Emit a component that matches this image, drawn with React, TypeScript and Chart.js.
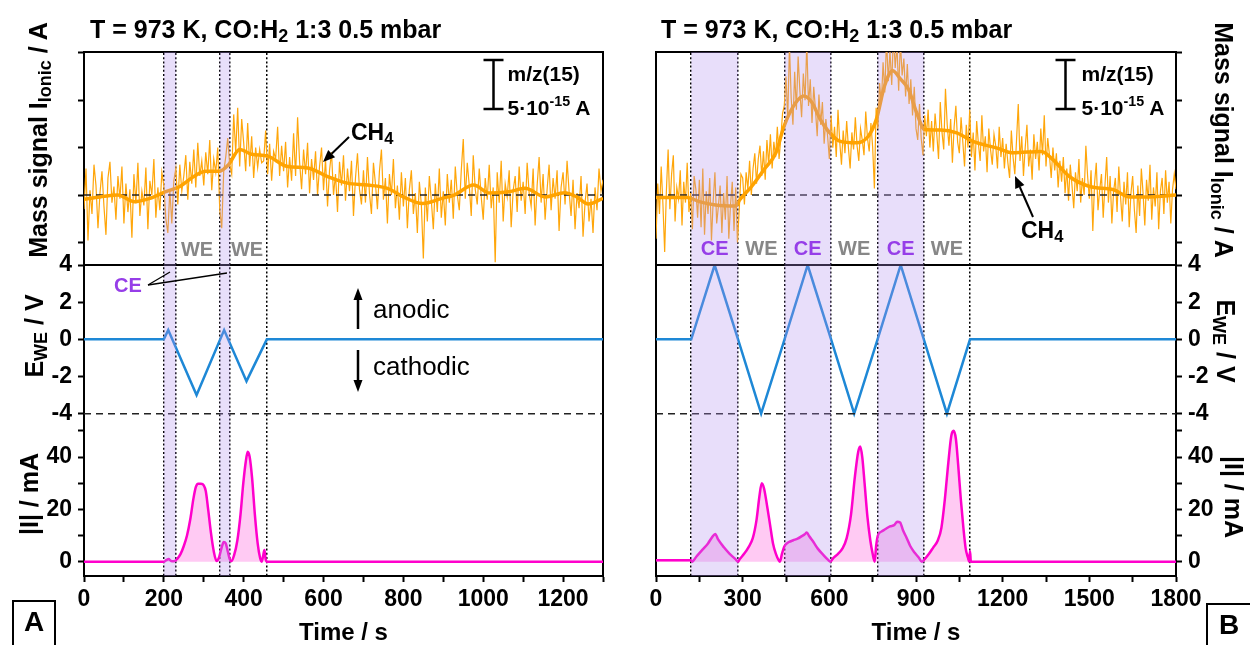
import React, { useEffect, useRef } from "react";
import { Chart, registerables } from "chart.js";

Chart.register(...registerables);

const FONT = "'Liberation Sans', Arial, Helvetica, sans-serif";

// ---------------- Panel A data (time in s) ----------------
const xLabelsA = [0, 200, 400, 600, 800, 1000, 1200];
const massStepA = 5; // sampling of the raw m/z 15 trace, s
// raw mass signal, units of 1e-15 A (0 = baseline)
const massNoisyA = [
  -1.5, 2.8, -4.8, 0.5, -2.0, 3.2, 1.0, -3.5, 0.2, 2.5, -1.2, -4.2, 1.8, 3.5, -0.8, 0.9, -2.6, 2.0, -0.4, 3.0,
  -3.0, 1.2, -1.8, 0.6, -4.5, 2.2, -0.9, 3.4, -2.2, 0.4, -1.1, 2.9, -3.6, 1.5, 0.0, 3.8, -2.4, 0.8, -1.6, 2.4,
  1.0, -2.5, -4.0, 0.5, -3.0, 1.5, 2.8, -1.0, 3.2, 0.4, 2.0, 4.2, -0.5, 3.5, 1.2, 4.8, 0.8, 5.5, 2.0, 3.6,
  1.0, 4.5, 2.2, 5.8, 0.5, 3.8, 2.4, 5.0, -1.5, -3.5, 2.5, 4.0, 6.0, 3.2, 2.2, 8.5, 4.5, 9.2, 3.0, 8.0,
  5.5, 2.5, 7.6, 3.0, 6.2, 1.8, 5.0, 2.9, 4.8, 3.4, 3.6, 6.8, 2.2, 5.4, 1.5, 4.6, 3.8, 7.2, 2.0, 5.2,
  2.5, 5.6, 0.8, 4.0, 1.5, 6.5, 2.0, 8.2, 3.5, 0.6, 4.8, 2.2, 5.5, 0.2, 3.8, 1.6, 4.6, 0.0, 3.0, 5.0,
  0.5, 3.8, -1.2, 2.6, 4.5, 0.0, 2.2, -1.8, 3.5, 1.0, 4.2, -0.6, 2.8, 0.4, 3.6, -2.2, 1.8, 4.4, 0.6, -1.0,
  2.6, -0.8, 4.0, 0.2, -2.0, 3.4, 1.2, -1.5, 2.5, 4.8, -0.5, 1.8, -3.0, 2.2, 0.0, 3.8, -1.4, 1.0, -2.6, 2.4,
  -1.2, 1.8, -3.5, 0.6, 2.6, -2.0, 0.2, -4.0, 1.4, -1.0, -6.7, 0.8, -2.8, 2.0, -0.6, -3.6, 1.2, -1.8, 2.8, -2.4,
  0.4, -3.2, 2.2, -0.8, 1.6, -2.5, 3.0, 0.0, -1.6, 2.6, 5.9, -0.4, 3.4, 1.0, -2.2, 4.2, 0.6, -1.0, 2.8, -0.2,
  -2.6, 1.8, -0.5, 3.2, -1.4, 0.8, -7.1, 2.4, -0.8, 3.6, -2.8, 1.2, -0.2, 2.6, -3.4, 0.5, 2.0, -1.8, 3.0, -0.6,
  1.4, -2.0, 3.4, 0.2, -1.2, 2.8, -3.2, 1.0, 4.0, -0.8, 2.2, -2.6, 0.6, 3.2, -1.6, 1.8, -0.4, 2.6, -3.8, 0.8,
  2.4, -1.0, 3.6, 0.4, -2.2, 1.6, -3.6, 0.2, -1.4, 2.0, -4.4, -0.8, 1.2, -2.8, -0.4, -4.0, 0.8, -1.6, 2.8, 0.4, 1.6,
];
const smoothTimesA = [0, 40, 85, 125, 165, 205, 240, 275, 305, 338, 362, 390, 420, 460, 510, 560, 610, 660, 710, 760, 800, 848, 897, 927, 976, 1016, 1065, 1105, 1155, 1204, 1234, 1263, 1300];
const smoothA = [-0.45, -0.2, 0, -0.7, -0.35, 0.35, 0.9, 1.95, 2.5, 2.5, 3.2, 4.8, 4.3, 4.1, 3.0, 2.85, 1.95, 1.25, 1.05, 0.7, -0.2, -0.9, -0.35, 0, 1.05, 0.2, 0.35, 0.7, -0.2, 0.25, -0.2, -0.95, -0.35];
const eTimesA = [0, 200, 211, 282, 351, 407, 458, 1300];
const eValuesA = [0, 0, 0.5, -3, 0.5, -2.25, 0, 0];
const iTimesA = [0, 200, 206, 212, 218, 226, 234, 242, 250, 258, 266, 274, 280, 286, 293, 300, 305, 311, 318, 325, 332, 338, 344, 350, 355, 360, 365, 369, 376, 384, 392, 399, 405, 410, 415, 421, 428, 435, 441, 445, 449, 452, 455, 458, 1300];
const iValuesA = [0, 0, 0.6, 1.0, 0.3, 0.2, 1.2, 3, 6, 10, 16, 24, 28.5, 29.8, 29.8, 29.2, 27, 20, 11, 4, 0.3, 1.5, 5, 7.5, 7, 4, 1, 0.2, 2.5, 8, 18, 30, 38, 42, 40, 32, 18, 7, 1.5, 0, 2.5, 4.5, 1, 0, 0];
const bandsA = [[200, 230], [340, 366]];
const markersA = [200, 230, 340, 366, 458];

// ---------------- Panel B data ----------------
const xLabelsB = [0, 300, 600, 900, 1200, 1500, 1800];
const massStepB = 6;
const massNoisyB = [
  -4.6, 1.2, -2.0, 3.0, -1.0, -6.0, 0.5, 4.8, -1.5, 2.2, 4.2, -2.8, 0.8, -0.4, 2.6, -3.2, 1.4, -0.8, 3.4, -1.8, 0.2, -3.6, 2.0, 0.6, -2.4,
  1.6, -3.4, 2.8, -4.2, 0.4, -2.0, 1.8, -4.8, -0.6, 2.4, -3.0, -1.2, 1.0, -4.0, 0.2, -2.6, 2.0, -4.6, -1.0, 1.4, -3.8, 0.8, -5.0, -1.6, 2.2,
  1.8, -1.0, 2.4, 0.6, 3.6, 0.0, 2.8, 4.4, 1.2, 3.8, 5.2, 2.0, 4.6, 1.6, 5.8, 3.2, 6.4, 2.8, 5.6, 4.0, 7.2, 3.8, 6.0, 8.6, 9.4,
  12.5, 8.0, 15.8, 10.2, 7.4, 13.0, 9.0, 14.6, 11.0, 8.2, 12.8, 10.0, 16.0, 9.4, 12.2, 7.6, 11.4, 9.0, 6.2, 10.6, 7.4, 9.8, 5.4, 8.0, 6.2,
  3.8, 8.4, 5.0, 7.2, 4.0, 9.0, 5.6, 3.2, 6.8, 4.4, 7.8, 5.0, 2.8, 6.6, 4.8, 8.2, 5.2, 3.6, 7.0, 5.8, 4.2, 8.8, 6.0, 4.6, 7.6,
  5.0, 0.7, 9.2, 7.0, 11.8, 9.6, 14.0, 10.8, 16.5, 12.0, 15.2, 11.6, 17.0, 13.4, 15.8, 11.0, 16.2, 12.6, 14.4, 10.4, 13.8, 9.6, 12.2, 8.4, 11.4,
  7.0, 5.8, 9.6, 6.0, 4.2, 8.4, 6.2, 9.0, 5.0, 7.8, 4.6, 8.6, 6.4, 3.8, 9.8, 6.6, 4.8, 11.2, 7.4, 5.2, 8.0, 3.4, 7.2, 9.4, 5.6,
  4.4, 8.2, 5.6, 3.0, 7.4, 5.0, 9.0, 4.0, 6.6, 2.6, 7.8, 5.4, 3.6, 8.4, 4.6, 6.2, 2.4, 7.0, 4.8, 3.2, 6.4, 5.2, 2.8, 7.2, 4.0,
  6.0, 2.8, 5.4, 3.4, 1.8, 6.8, 4.0, 2.2, 5.8, 9.6, 3.6, 6.2, 2.0, 5.0, 7.4, 3.0, 4.8, 1.6, 6.4, 3.8, 5.6, 2.6, 7.0, 4.2, 8.4,
  3.0, 6.0, 4.2, 1.8, 5.0, 2.6, 4.4, 0.8, 3.6, 1.4, 4.0, 0.2, 2.8, -0.6, 3.2, 1.0, -1.4, 2.4, 0.4, 3.8, -0.8, 1.8, 0.0, 5.2, 2.0,
  -0.4, 2.6, -3.8, 1.2, 3.4, -1.6, 0.6, 2.2, -2.4, 1.0, 4.0, -0.8, 2.0, -3.0, 0.4, 1.8, -1.8, 3.0, -0.2, -2.8, 1.4, -1.0, 2.4, -3.4, 0.2,
  2.0, -1.6, -4.0, 1.0, -2.2, 2.8, 0.2, -3.2, 1.6, -0.6, 3.2, -2.6, 0.8, -1.2, 2.4, -3.6, 0.4, 1.8, -2.0, 2.6, -0.8, 1.4, -3.0, 0.6, 2.2,
  0.6,
];
const smoothTimesB = [0, 109, 150, 206, 276, 290, 331, 373, 415, 443, 484, 512, 540, 568, 596, 638, 693, 735, 763, 791, 819, 846, 874, 902, 930, 986, 1041, 1097, 1181, 1236, 1334, 1375, 1431, 1501, 1584, 1640, 1710, 1800];
const smoothB = [-0.25, -0.25, -0.7, -1.05, -1.15, -0.5, 0.9, 2.65, 4.45, 7.25, 9.75, 10.45, 9.75, 8.0, 6.75, 5.65, 5.5, 6.2, 8.0, 11.5, 13.1, 12.25, 11.15, 8.7, 6.9, 6.85, 6.55, 5.65, 4.95, 4.45, 4.6, 3.7, 1.95, 0.9, 0.55, -0.2, -0.2, 0];
const eTimesB = [0, 122, 203, 284, 364, 445, 525, 606, 686, 767, 847, 927, 1007, 1087, 1800];
const eValuesB = [0, 0, 4, 0, -4, 0, 4, 0, -4, 0, 4, 0, -4, 0, 0];
const iTimesB = [0, 122, 125, 140, 160, 180, 195, 205, 215, 235, 255, 275, 284, 290, 305, 320, 335, 348, 358, 366, 374, 385, 395, 405, 415, 425, 429, 436, 445, 460, 475, 490, 505, 515, 522, 530, 545, 560, 580, 595, 604, 612, 630, 645, 660, 675, 688, 700, 707, 714, 722, 732, 742, 750, 757, 762, 768, 780, 795, 810, 825, 835, 845, 855, 868, 880, 895, 910, 920, 930, 945, 960, 975, 988, 1000, 1012, 1022, 1030, 1038, 1046, 1055, 1064, 1072, 1080, 1084, 1087, 1090, 1800];
const iValuesB = [0.6, 0.6, 0, 2, 4.5, 7, 9.5, 10.6, 8.5, 5.5, 3, 1, 0, 1, 3, 5.5, 9, 16, 25, 30, 28, 21, 14, 7, 3, 0.5, 0, 3, 6, 7.5, 8.2, 8.8, 9.8, 10.5, 11.2, 9.8, 7.5, 5, 2.5, 0.8, 0, 1.2, 3, 5, 9, 18, 32, 42, 44, 40, 30, 17, 8, 3, 0, 6, 10, 11.5, 12.5, 13.5, 14, 15.3, 15, 12, 9, 6, 3.5, 1.5, 0, 1, 3, 5.5, 8, 13, 24, 38, 48, 50, 47, 37, 24, 13, 5, 1.5, 0, 4, 0, 0];
const bandsB = [[122, 284], [445, 606], [767, 927]];
const markersB = [122, 284, 445, 606, 767, 927, 1087];

// ---------------- axis ticks ----------------
const massTicks = [-5, 0, 5, 10, 15];
const eTicks = [-4, -2, 0, 2, 4];
const eTickLabels = [-4, -2, 0, 2, 4];
const iTicks = [0, 10, 20, 30, 40, 50];
const iTickLabels = [0, 20, 40];
const massRange = [-7.38, 15.08];
const eRange = [-4.34, 4];
const iRange = [-5.46, 54.15];

const pts = (xs: number[], ys: number[]) => xs.map((x, i) => ({ x, y: ys[i] }));
const stepPts = (step: number, ys: number[]) => ys.map((y, i) => ({ x: i * step, y }));

const bandPlugin = {
  id: "bands",
  afterDatasetsDraw(chart: any, _args: any, opts: any) {
    const { ctx, chartArea, scales } = chart;
    const xs = scales.x;
    ctx.save();
    ctx.fillStyle = opts.color;
    for (const [s, e] of opts.ranges) {
      const x1 = xs.getPixelForValue(s);
      const x2 = xs.getPixelForValue(e);
      ctx.fillRect(x1, chartArea.top, x2 - x1, chartArea.bottom - chartArea.top);
    }
    ctx.restore();
  },
};

type Panel = {
  side: "left" | "right";
  xMax: number;
  xStep: number;
  xLabels: number[];
  massStep: number;
  massNoisy: number[];
  smoothT: number[];
  smoothV: number[];
  eT: number[];
  eV: number[];
  iT: number[];
  iV: number[];
  bands: number[][];
  markers: number[];
  padding: any;
  axisWidth: number;
};

function buildConfig(p: Panel): any {
  const tickFont = { family: FONT, size: 23, weight: "bold" };
  const yAxis = (min: number, max: number, weight: number, ticks: number[], cb: (v: number) => string) => ({
    type: "linear",
    position: p.side,
    stack: "panel",
    stackWeight: weight,
    bounds: "data",
    min,
    max,
    grid: { display: true, drawOnChartArea: false, drawTicks: true, tickLength: 6, tickWidth: 2, tickColor: "#000" },
    border: { display: true, width: 2, color: "#000" },
    ticks: { font: tickFont, color: "#000", padding: 6, autoSkip: false, callback: cb },
    afterBuildTicks: (s: any) => {
      s.ticks = ticks.map((v) => ({ value: v }));
    },
    afterFit: (s: any) => {
      s.width = p.axisWidth;
    },
  });
  const yMass = yAxis(massRange[0], massRange[1], 213, massTicks, () => "");
  const yE = yAxis(eRange[0], eRange[1], 155, eTicks, (v) => (eTickLabels.includes(v) ? String(v) : ""));
  const yI = yAxis(iRange[0], iRange[1], 156, iTicks, (v) => (iTickLabels.includes(v) ? String(v) : ""));
  const x = {
    type: "linear",
    position: "bottom",
    min: 0,
    max: p.xMax,
    bounds: "data",
    grid: { display: true, drawOnChartArea: false, drawTicks: true, tickLength: 6, tickWidth: 2, tickColor: "#000" },
    border: { display: true, width: 2, color: "#000" },
    ticks: {
      stepSize: p.xStep,
      autoSkip: false,
      maxRotation: 0,
      minRotation: 0,
      font: tickFont,
      color: "#000",
      padding: 4,
      callback: (v: number) => (p.xLabels.includes(v) ? String(v) : ""),
    },
    afterFit: (s: any) => {
      s.height = 69;
    },
  };
  const xTop = {
    type: "linear",
    position: "top",
    min: 0,
    max: p.xMax,
    bounds: "data",
    grid: { display: true, drawOnChartArea: true, drawTicks: false, color: "#000", lineWidth: 1.5 },
    border: { display: true, width: 2, color: "#000", dash: [2, 2.2] },
    ticks: { display: false },
    afterBuildTicks: (s: any) => {
      s.ticks = p.markers.map((v) => ({ value: v }));
    },
    afterFit: (s: any) => {
      s.height = 0;
    },
  };
  const yFrame = {
    type: "linear",
    position: p.side === "left" ? "right" : "left",
    grid: { display: false },
    border: { display: true, width: 2, color: "#000" },
    ticks: { display: false },
    afterFit: (s: any) => {
      s.width = 0;
    },
  };
  const scales: any =
    p.side === "left"
      ? { x, xTop, yI, yE, yMass, yFrame }
      : { x, xTop, yMass, yE, yI, yFrame };

  const orange = "rgb(255,166,10)";
  const datasets: any[] = [
    {
      data: pts(p.smoothT, p.smoothV),
      yAxisID: "yMass",
      borderColor: "rgb(255,163,0)",
      borderWidth: 3.5,
      pointRadius: 0,
      cubicInterpolationMode: "monotone",
    },
    {
      data: pts([0, p.xMax], [0, 0]),
      yAxisID: "yMass",
      borderColor: "#222",
      borderWidth: 1.5,
      borderDash: [7, 5],
      pointRadius: 0,
    },
    {
      data: stepPts(p.massStep, p.massNoisy),
      yAxisID: "yMass",
      borderColor: orange,
      borderWidth: 1.2,
      pointRadius: 0,
    },
    {
      data: pts([0, p.xMax], [eRange[1], eRange[1]]),
      yAxisID: "yE",
      borderColor: "#000",
      borderWidth: 2,
      pointRadius: 0,
      clip: false,
    },
    {
      data: pts([0, p.xMax], [-4, -4]),
      yAxisID: "yE",
      borderColor: "#222",
      borderWidth: 1.5,
      borderDash: [7, 5],
      pointRadius: 0,
    },
    {
      data: pts(p.eT, p.eV),
      yAxisID: "yE",
      borderColor: "rgb(30,136,214)",
      borderWidth: 2.5,
      pointRadius: 0,
    },
    {
      data: pts(p.iT, p.iV),
      yAxisID: "yI",
      borderColor: "rgb(255,0,204)",
      backgroundColor: "rgba(255,80,215,0.3)",
      fill: "origin",
      borderWidth: 2.5,
      pointRadius: 0,
      cubicInterpolationMode: "monotone",
    },
  ];
  datasets.forEach((d) => (d.xAxisID = "x"));

  return {
    type: "line",
    data: { datasets },
    options: {
      responsive: false,
      animation: false,
      devicePixelRatio: 1,
      events: [],
      layout: { padding: p.padding },
      scales,
      plugins: {
        legend: { display: false },
        tooltip: { enabled: false },
        bands: { ranges: p.bands, color: "rgba(178,145,238,0.3)" },
      },
    },
    plugins: [bandPlugin],
  };
}

const panelA: Panel = {
  side: "left",
  xMax: 1300,
  xStep: 100,
  xLabels: xLabelsA,
  massStep: massStepA,
  massNoisy: massNoisyA,
  smoothT: smoothTimesA,
  smoothV: smoothA,
  eT: eTimesA,
  eV: eValuesA,
  iT: iTimesA,
  iV: iValuesA,
  bands: bandsA,
  markers: markersA,
  padding: { left: 0, top: 52, right: 22, bottom: 0 },
  axisWidth: 84,
};

const panelB: Panel = {
  side: "right",
  xMax: 1800,
  xStep: 150,
  xLabels: xLabelsB,
  massStep: massStepB,
  massNoisy: massNoisyB,
  smoothT: smoothTimesB,
  smoothV: smoothB,
  eT: eTimesB,
  eV: eValuesB,
  iT: iTimesB,
  iV: iValuesB,
  bands: bandsB,
  markers: markersB,
  padding: { left: 31, top: 52, right: 0, bottom: 0 },
  axisWidth: 74,
};

function PanelChart({ spec, left }: { spec: Panel; left: number }) {
  const ref = useRef<HTMLCanvasElement>(null);
  useEffect(() => {
    const chart = new Chart(ref.current as HTMLCanvasElement, buildConfig(spec));
    return () => chart.destroy();
  }, []);
  return (
    <canvas
      ref={ref}
      width={625}
      height={645}
      style={{ position: "absolute", left, top: 0, width: 625, height: 645 }}
    />
  );
}

const base: any = { position: "absolute", whiteSpace: "nowrap", fontFamily: FONT, color: "#000" };
const sub = { fontSize: "0.72em", verticalAlign: "-0.22em" };
const sup = { fontSize: "0.68em", verticalAlign: "0.6em" };

function T({ left, top, size, bold = true, color = "#000", children }: any) {
  return (
    <div style={{ ...base, left, top, fontSize: size, lineHeight: `${size}px`, fontWeight: bold ? "bold" : "normal", color }}>
      {children}
    </div>
  );
}

function VT({ cx, cy, rot, size = 25, children }: any) {
  return (
    <div
      style={{
        ...base,
        left: cx,
        top: cy,
        fontSize: size,
        lineHeight: `${size}px`,
        fontWeight: "bold",
        transform: `translate(-50%,-50%) rotate(${rot}deg)`,
      }}
    >
      {children}
    </div>
  );
}

function CT({ cx, top, size, color, children }: any) {
  return (
    <div style={{ ...base, left: cx, top, fontSize: size, lineHeight: `${size}px`, fontWeight: "bold", color, transform: "translateX(-50%)" }}>
      {children}
    </div>
  );
}

function Arrow({ x1, y1, x2, y2, head = 11, hw = 4.5, w = 1.8 }: any) {
  const dx = x2 - x1;
  const dy = y2 - y1;
  const L = Math.hypot(dx, dy);
  const ux = dx / L;
  const uy = dy / L;
  const bx = x2 - ux * head;
  const by = y2 - uy * head;
  const px = -uy * hw;
  const py = ux * hw;
  return (
    <g>
      <line x1={x1} y1={y1} x2={bx} y2={by} stroke="#000" strokeWidth={w} />
      <polygon points={`${x2},${y2} ${bx + px},${by + py} ${bx - px},${by - py}`} fill="#000" />
    </g>
  );
}

function ScaleBar({ x }: { x: number }) {
  return (
    <g stroke="#000" strokeWidth={2.5}>
      <line x1={x} y1={60} x2={x} y2={109} />
      <line x1={x - 10} y1={60} x2={x + 10} y2={60} />
      <line x1={x - 10} y1={109} x2={x + 10} y2={109} />
    </g>
  );
}

const CE_COLOR = "rgb(150,62,232)";
const WE_COLOR = "rgb(135,135,135)";

export default function App() {
  const title = (
    <>
      T = 973 K, CO:H<span style={sub}>2</span> 1:3 0.5 mbar
    </>
  );
  const massTitle = (
    <>
      Mass signal I<span style={sub}>Ionic</span> / A
    </>
  );
  const eTitle = (
    <>
      E<span style={sub}>WE</span> / V
    </>
  );
  const scaleText = (left: number) => (
    <>
      <T left={left} top={63} size={21}>m/z(15)</T>
      <T left={left} top={91} size={21}>
        5·10<span style={sup}>-15</span> A
      </T>
    </>
  );
  return (
    <div style={{ position: "absolute", left: 0, top: 0, width: 1250, height: 645, background: "#fff", overflow: "hidden" }}>
      <PanelChart spec={panelA} left={0} />
      <PanelChart spec={panelB} left={625} />

      <svg width={1250} height={645} style={{ position: "absolute", left: 0, top: 0 }}>
        <ScaleBar x={493.5} />
        <ScaleBar x={1065.5} />
        <Arrow x1={349} y1={137} x2={323} y2={162} head={12} hw={5} w={2} />
        <Arrow x1={1033} y1={217} x2={1015} y2={176} head={12} hw={5} w={2} />
        <Arrow x1={358} y1={329} x2={358} y2={288} head={12} hw={4.5} w={2.5} />
        <Arrow x1={358} y1={350} x2={358} y2={392} head={12} hw={4.5} w={2.5} />
        <line x1={148} y1={285} x2={170} y2={272} stroke="#000" strokeWidth={1.3} />
        <line x1={148} y1={285} x2={227} y2={273} stroke="#000" strokeWidth={1.3} />
      </svg>

      <T left={90} top={17} size={25}>{title}</T>
      <T left={661} top={17} size={25}>{title}</T>

      <VT cx={42} cy={140} rot={-90}>{massTitle}</VT>
      <VT cx={38} cy={336} rot={-90}>{eTitle}</VT>
      <VT cx={29} cy={494} rot={-90}>|I| / mA</VT>
      <VT cx={1220} cy={140} rot={90}>{massTitle}</VT>
      <VT cx={1222} cy={341} rot={90}>{eTitle}</VT>
      <VT cx={1233} cy={497} rot={90}>|I| / mA</VT>

      <CT cx={343.5} top={620} size={24} color="#000">Time / s</CT>
      <CT cx={916} top={620} size={24} color="#000">Time / s</CT>

      {scaleText(507.5)}
      {scaleText(1081.5)}

      <T left={351} top={120.5} size={23}>
        CH<span style={sub}>4</span>
      </T>
      <T left={1021} top={218.5} size={23}>
        CH<span style={sub}>4</span>
      </T>

      <T left={373} top={296} size={26} bold={false}>anodic</T>
      <T left={373} top={352.5} size={26} bold={false}>cathodic</T>

      <CT cx={197} top={239} size={20} color={WE_COLOR}>WE</CT>
      <CT cx={247} top={239} size={20} color={WE_COLOR}>WE</CT>
      <T left={114} top={275} size={20} color={CE_COLOR}>CE</T>

      <CT cx={714.6} top={238} size={20} color={CE_COLOR}>CE</CT>
      <CT cx={761.4} top={238} size={20} color={WE_COLOR}>WE</CT>
      <CT cx={807.7} top={238} size={20} color={CE_COLOR}>CE</CT>
      <CT cx={854.2} top={238} size={20} color={WE_COLOR}>WE</CT>
      <CT cx={900.7} top={238} size={20} color={CE_COLOR}>CE</CT>
      <CT cx={946.9} top={238} size={20} color={WE_COLOR}>WE</CT>

      <div
        style={{
          ...base,
          left: 12,
          top: 600,
          width: 44,
          height: 52,
          boxSizing: "border-box",
          border: "2px solid #000",
          fontSize: 28,
          fontWeight: "bold",
          lineHeight: "40px",
          textAlign: "center",
        }}
      >
        A
      </div>
      <div
        style={{
          ...base,
          left: 1206,
          top: 603,
          width: 46,
          height: 52,
          boxSizing: "border-box",
          border: "2px solid #000",
          fontSize: 28,
          fontWeight: "bold",
          lineHeight: "40px",
          textAlign: "center",
        }}
      >
        B
      </div>
    </div>
  );
}
